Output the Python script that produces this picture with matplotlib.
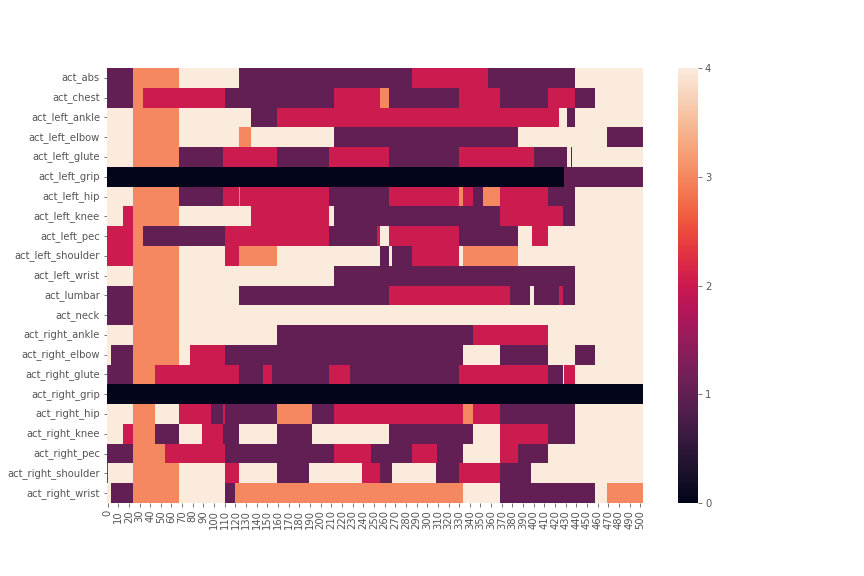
import matplotlib
matplotlib.use('Agg')
import matplotlib.pyplot as plt
import numpy as np
import pandas as pd
import seaborn as sns

n_cols = 503

muscles = ['act_abs', 'act_chest', 'act_left_ankle', 'act_left_elbow', 'act_left_glute',
           'act_left_grip', 'act_left_hip', 'act_left_knee', 'act_left_pec',
           'act_left_shoulder', 'act_left_wrist', 'act_lumbar', 'act_neck',
           'act_right_ankle', 'act_right_elbow', 'act_right_glute', 'act_right_grip',
           'act_right_hip', 'act_right_knee', 'act_right_pec', 'act_right_shoulder',
           'act_right_wrist']

# (start frame, activation level) for each muscle
act_abs = [(0, 1), (24, 3), (68, 4), (124, 1), (286, 2), (358, 1), (439, 4)]
act_chest = [(0, 1), (24, 3), (34, 2), (111, 1), (213, 2), (256, 3), (265, 1), (330, 2),
             (369, 1), (414, 2), (439, 1), (458, 4)]
act_left_ankle = [(0, 4), (24, 3), (68, 4), (135, 1), (160, 2), (424, 4), (432, 1), (439, 4)]
act_left_elbow = [(0, 4), (24, 3), (68, 4), (124, 3), (135, 4), (213, 1), (386, 4), (469, 1)]
act_left_glute = [(0, 4), (24, 3), (68, 1), (109, 2), (160, 1), (208, 2), (265, 1), (330, 2),
                  (401, 1), (432, 4), (435, 1), (436, 4)]
act_left_grip = [(0, 0), (429, 1)]
act_left_hip = [(0, 4), (24, 3), (68, 1), (109, 2), (124, 3), (125, 2), (208, 1), (265, 2),
                (330, 3), (334, 2), (343, 1), (353, 3), (369, 2), (414, 1), (439, 4)]
act_left_knee = [(0, 4), (15, 2), (24, 3), (68, 4), (135, 2), (208, 4), (213, 1), (369, 2),
                 (428, 1), (439, 4)]
act_left_pec = [(0, 2), (24, 3), (34, 1), (111, 2), (208, 1), (253, 2), (256, 4), (265, 2),
                (330, 1), (386, 4), (399, 2), (414, 4)]
act_left_shoulder = [(0, 2), (24, 3), (68, 4), (111, 2), (124, 3), (160, 4), (256, 1), (265, 4),
                     (267, 1), (286, 2), (330, 4), (334, 3), (386, 4)]
act_left_wrist = [(0, 4), (24, 3), (68, 4), (213, 1), (439, 4)]
act_lumbar = [(0, 1), (24, 3), (68, 4), (124, 1), (265, 2), (378, 1), (397, 4), (401, 1),
              (424, 2), (428, 1), (439, 4)]
act_neck = [(0, 1), (24, 3), (68, 4)]
act_right_ankle = [(0, 4), (24, 3), (68, 4), (160, 1), (343, 2), (414, 4)]
act_right_elbow = [(0, 4), (4, 1), (24, 3), (68, 4), (78, 2), (111, 1), (334, 4), (369, 1),
                   (414, 4), (439, 1), (458, 4)]
act_right_glute = [(0, 2), (1, 1), (24, 3), (45, 2), (124, 1), (146, 2), (155, 1), (208, 2),
                   (228, 1), (330, 2), (414, 1), (428, 4), (429, 2), (439, 4)]
act_right_grip = [(0, 0)]
act_right_hip = [(0, 4), (24, 3), (45, 4), (68, 2), (98, 1), (109, 2), (111, 1), (160, 3),
                 (192, 1), (213, 2), (334, 3), (343, 2), (369, 1), (439, 4)]
act_right_knee = [(0, 4), (15, 2), (24, 3), (45, 1), (68, 4), (89, 2), (109, 1), (124, 4),
                  (160, 1), (192, 4), (265, 1), (343, 4), (369, 2), (414, 1), (439, 4)]
act_right_pec = [(0, 1), (24, 3), (54, 2), (111, 1), (213, 2), (248, 1), (286, 2), (310, 1),
                 (334, 4), (369, 2), (386, 1), (414, 4)]
act_right_shoulder = [(0, 2), (1, 4), (24, 3), (68, 4), (111, 2), (124, 4), (160, 1), (190, 4),
                      (239, 2), (256, 1), (267, 4), (309, 1), (330, 2), (369, 1), (398, 4)]
act_right_wrist = [(0, 4), (4, 1), (24, 3), (68, 4), (111, 1), (120, 3), (334, 4), (369, 1),
                   (458, 4), (469, 3)]

segments = [act_abs, act_chest, act_left_ankle, act_left_elbow, act_left_glute, act_left_grip,
            act_left_hip, act_left_knee, act_left_pec, act_left_shoulder, act_left_wrist,
            act_lumbar, act_neck, act_right_ankle, act_right_elbow, act_right_glute,
            act_right_grip, act_right_hip, act_right_knee, act_right_pec, act_right_shoulder,
            act_right_wrist]


def expand(segs):
    row = np.zeros(n_cols)
    for i, (start, val) in enumerate(segs):
        end = segs[i + 1][0] if i + 1 < len(segs) else n_cols
        row[start:end] = val
    return row


df = pd.DataFrame([expand(s) for s in segments], index=muscles, columns=range(n_cols))

plt.style.use('ggplot')
fig = plt.figure(figsize=(12, 8), dpi=72)
ax = fig.add_axes([107 / 864, 73 / 576, 536 / 864, 435 / 576])
cax = fig.add_axes([678 / 864, 73 / 576, 20 / 864, 435 / 576])
sns.heatmap(df, ax=ax, cbar_ax=cax, xticklabels=10, vmin=0, vmax=4,
            cbar_kws={'ticks': [0, 1, 2, 3, 4]})
cax.set_yticklabels(['0', '1', '2', '3', '4'])
ax.tick_params(axis='y', rotation=0)
ax.tick_params(axis='x', rotation=90)
fig.savefig('out.png', dpi=72)
